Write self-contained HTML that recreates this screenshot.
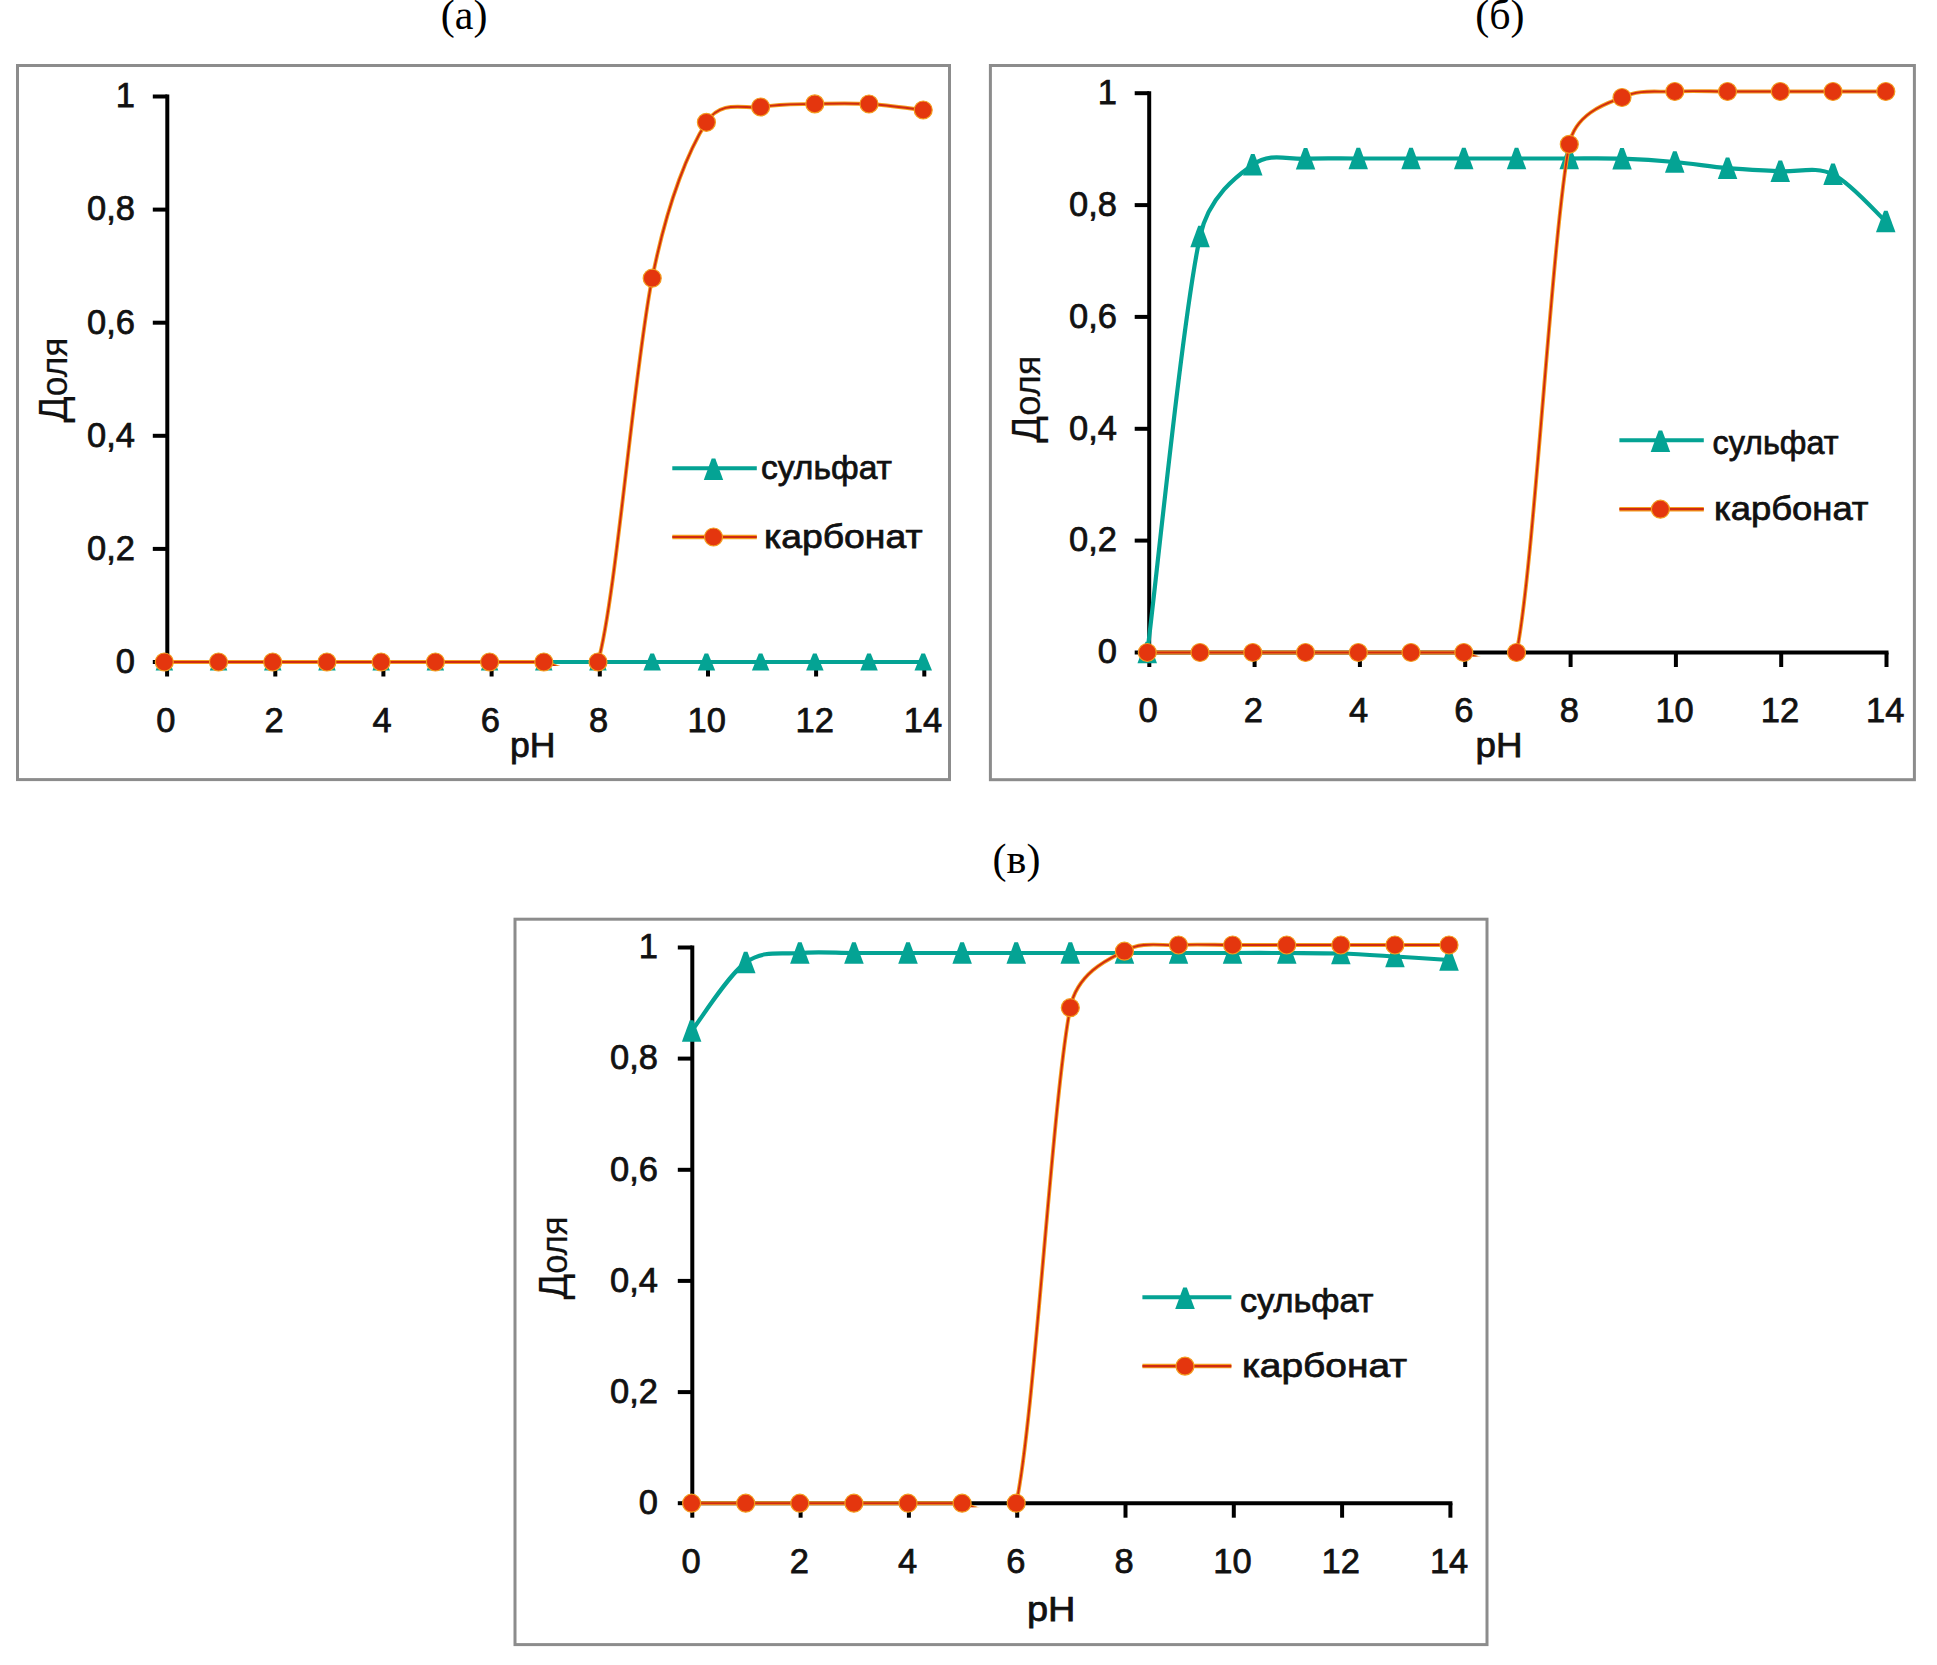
<!DOCTYPE html>
<html><head><meta charset="utf-8"><style>
html,body{margin:0;padding:0;background:#fff;}
svg{display:block;}
</style></head><body>
<svg width="1937" height="1665" viewBox="0 0 1937 1665">
<rect width="1937" height="1665" fill="#fff"/>
<g font-family="Liberation Serif, serif" font-size="42" fill="#000">
<text x="440.8" y="29.1">(а)</text>
<text x="1475.2" y="28.6">(б)</text>
<text x="992.6" y="872.8">(в)</text>
</g>
<rect x="17.5" y="65.5" width="932.0" height="714.1" fill="#fff" stroke="#8c8c8c" stroke-width="3"/>
<clipPath id="clipa"><rect x="163.3" y="67.5" width="782.2" height="598.5"/></clipPath>
<g stroke="#000" stroke-width="4" fill="none">
<line x1="167.3" y1="94.5" x2="167.3" y2="664"/>
<line x1="165.3" y1="662" x2="926.3" y2="662"/>
<line x1="152.8" y1="662.0" x2="167.3" y2="662.0"/>
<line x1="152.8" y1="548.9" x2="167.3" y2="548.9"/>
<line x1="152.8" y1="435.8" x2="167.3" y2="435.8"/>
<line x1="152.8" y1="322.7" x2="167.3" y2="322.7"/>
<line x1="152.8" y1="209.6" x2="167.3" y2="209.6"/>
<line x1="152.8" y1="96.5" x2="167.3" y2="96.5"/>
<line x1="167.1" y1="662" x2="167.1" y2="676.5"/>
<line x1="275.3" y1="662" x2="275.3" y2="676.5"/>
<line x1="383.4" y1="662" x2="383.4" y2="676.5"/>
<line x1="491.6" y1="662" x2="491.6" y2="676.5"/>
<line x1="599.8" y1="662" x2="599.8" y2="676.5"/>
<line x1="708.0" y1="662" x2="708.0" y2="676.5"/>
<line x1="816.1" y1="662" x2="816.1" y2="676.5"/>
<line x1="924.3" y1="662" x2="924.3" y2="676.5"/>
</g>
<g font-family="Liberation Sans, sans-serif" font-size="34.5" fill="#111" stroke="#111" stroke-width="0.75">
<text x="135" y="672.8" text-anchor="end">0</text>
<text x="135" y="559.7" text-anchor="end">0,2</text>
<text x="135" y="446.6" text-anchor="end">0,4</text>
<text x="135" y="333.5" text-anchor="end">0,6</text>
<text x="135" y="220.4" text-anchor="end">0,8</text>
<text x="135" y="107.3" text-anchor="end">1</text>
<text x="165.8" y="731.5" text-anchor="middle">0</text>
<text x="274.0" y="731.5" text-anchor="middle">2</text>
<text x="382.1" y="731.5" text-anchor="middle">4</text>
<text x="490.3" y="731.5" text-anchor="middle">6</text>
<text x="598.5" y="731.5" text-anchor="middle">8</text>
<text x="706.7" y="731.5" text-anchor="middle">10</text>
<text x="814.8" y="731.5" text-anchor="middle">12</text>
<text x="923.0" y="731.5" text-anchor="middle">14</text>
<text x="510" y="756.5" textLength="45.5" lengthAdjust="spacingAndGlyphs">pH</text>
<text transform="translate(66.5,380) rotate(-90)" x="-42.5" textLength="85" lengthAdjust="spacingAndGlyphs" stroke-width="0.2"><tspan font-size="40.5">Д</tspan><tspan font-size="37">оля</tspan></text>
</g>
<path clip-path="url(#clipa)" d="M164.3,662.0 C173.3,662.0 200.4,662.0 218.5,662.0 C236.6,662.0 254.7,662.0 272.7,662.0 C290.8,662.0 308.9,662.0 326.9,662.0 C345.0,662.0 363.1,662.0 381.1,662.0 C399.2,662.0 417.3,662.0 435.4,662.0 C453.4,662.0 471.5,662.0 489.6,662.0 C507.6,662.0 525.7,662.0 543.8,662.0 C561.8,662.0 579.9,662.0 598.0,662.0 C616.1,662.0 634.1,662.0 652.2,662.0 C670.3,662.0 688.3,662.0 706.4,662.0 C724.5,662.0 742.5,662.0 760.6,662.0 C778.7,662.0 796.8,662.0 814.8,662.0 C832.9,662.0 851.0,662.0 869.0,662.0 C887.1,662.0 914.2,662.0 923.2,662.0" fill="none" stroke="#04a394" stroke-width="4.2"/>
<polygon points="162.5,653.5 166.1,653.5 173.1,670.5 155.6,670.5" fill="#04a394"/>
<polygon points="216.7,653.5 220.3,653.5 227.3,670.5 209.8,670.5" fill="#04a394"/>
<polygon points="270.9,653.5 274.5,653.5 281.5,670.5 264.0,670.5" fill="#04a394"/>
<polygon points="325.1,653.5 328.7,653.5 335.7,670.5 318.2,670.5" fill="#04a394"/>
<polygon points="379.3,653.5 382.9,653.5 389.9,670.5 372.4,670.5" fill="#04a394"/>
<polygon points="433.6,653.5 437.2,653.5 444.1,670.5 426.6,670.5" fill="#04a394"/>
<polygon points="487.8,653.5 491.4,653.5 498.3,670.5 480.8,670.5" fill="#04a394"/>
<polygon points="542.0,653.5 545.6,653.5 552.5,670.5 535.0,670.5" fill="#04a394"/>
<polygon points="596.2,653.5 599.8,653.5 606.7,670.5 589.2,670.5" fill="#04a394"/>
<polygon points="650.4,653.5 654.0,653.5 660.9,670.5 643.4,670.5" fill="#04a394"/>
<polygon points="704.6,653.5 708.2,653.5 715.2,670.5 697.7,670.5" fill="#04a394"/>
<polygon points="758.8,653.5 762.4,653.5 769.4,670.5 751.9,670.5" fill="#04a394"/>
<polygon points="813.0,653.5 816.6,653.5 823.6,670.5 806.1,670.5" fill="#04a394"/>
<polygon points="867.2,653.5 870.8,653.5 877.8,670.5 860.3,670.5" fill="#04a394"/>
<polygon points="921.4,653.5 925.0,653.5 932.0,670.5 914.5,670.5" fill="#04a394"/>
<g clip-path="url(#clipa)">
<path d="M164.3,662.0 C173.3,662.0 200.4,662.0 218.5,662.0 C236.6,662.0 254.7,662.0 272.7,662.0 C290.8,662.0 308.9,662.0 326.9,662.0 C345.0,662.0 363.1,662.0 381.1,662.0 C399.2,662.0 417.3,662.0 435.4,662.0 C453.4,662.0 471.5,662.0 489.6,662.0 C507.6,662.0 525.7,662.0 543.8,662.0 C551.1,662.0 590.6,688.1 598.0,662.0 C616.1,598.0 634.1,368.1 652.2,278.2 C668.4,197.3 690.1,148.0 706.4,122.3 C721.5,98.5 745.5,109.6 760.6,107.0 C778.7,103.9 796.8,104.4 814.8,103.9 C832.9,103.4 851.0,103.0 869.0,104.0 C887.1,105.0 914.2,109.0 923.2,110.0" fill="none" stroke="#f39c1f" stroke-width="3.9"/>
<path d="M164.3,662.0 C173.3,662.0 200.4,662.0 218.5,662.0 C236.6,662.0 254.7,662.0 272.7,662.0 C290.8,662.0 308.9,662.0 326.9,662.0 C345.0,662.0 363.1,662.0 381.1,662.0 C399.2,662.0 417.3,662.0 435.4,662.0 C453.4,662.0 471.5,662.0 489.6,662.0 C507.6,662.0 525.7,662.0 543.8,662.0 C551.1,662.0 590.6,688.1 598.0,662.0 C616.1,598.0 634.1,368.1 652.2,278.2 C668.4,197.3 690.1,148.0 706.4,122.3 C721.5,98.5 745.5,109.6 760.6,107.0 C778.7,103.9 796.8,104.4 814.8,103.9 C832.9,103.4 851.0,103.0 869.0,104.0 C887.1,105.0 914.2,109.0 923.2,110.0" fill="none" stroke="#d02a10" stroke-width="1.9"/>
</g>
<circle cx="164.3" cy="662.0" r="9" fill="#e4360e" stroke="#f39c1f" stroke-width="1.2"/>
<circle cx="218.5" cy="662.0" r="9" fill="#e4360e" stroke="#f39c1f" stroke-width="1.2"/>
<circle cx="272.7" cy="662.0" r="9" fill="#e4360e" stroke="#f39c1f" stroke-width="1.2"/>
<circle cx="326.9" cy="662.0" r="9" fill="#e4360e" stroke="#f39c1f" stroke-width="1.2"/>
<circle cx="381.1" cy="662.0" r="9" fill="#e4360e" stroke="#f39c1f" stroke-width="1.2"/>
<circle cx="435.4" cy="662.0" r="9" fill="#e4360e" stroke="#f39c1f" stroke-width="1.2"/>
<circle cx="489.6" cy="662.0" r="9" fill="#e4360e" stroke="#f39c1f" stroke-width="1.2"/>
<circle cx="543.8" cy="662.0" r="9" fill="#e4360e" stroke="#f39c1f" stroke-width="1.2"/>
<circle cx="598.0" cy="662.0" r="9" fill="#e4360e" stroke="#f39c1f" stroke-width="1.2"/>
<circle cx="652.2" cy="278.2" r="9" fill="#e4360e" stroke="#f39c1f" stroke-width="1.2"/>
<circle cx="706.4" cy="122.3" r="9" fill="#e4360e" stroke="#f39c1f" stroke-width="1.2"/>
<circle cx="760.6" cy="107.0" r="9" fill="#e4360e" stroke="#f39c1f" stroke-width="1.2"/>
<circle cx="814.8" cy="103.9" r="9" fill="#e4360e" stroke="#f39c1f" stroke-width="1.2"/>
<circle cx="869.0" cy="104.0" r="9" fill="#e4360e" stroke="#f39c1f" stroke-width="1.2"/>
<circle cx="923.2" cy="110.0" r="9" fill="#e4360e" stroke="#f39c1f" stroke-width="1.2"/>
<line x1="672.3" y1="468.3" x2="756.8" y2="468.3" stroke="#04a394" stroke-width="4" stroke-linecap="butt"/>
<polygon points="711.7,458.6 715.3,458.6 723.2,480.1 703.8,480.1" fill="#04a394"/>
<line x1="672.3" y1="537" x2="756.8" y2="537" stroke="#f39c1f" stroke-width="4.5" stroke-linecap="butt"/>
<line x1="672.3" y1="537" x2="756.8" y2="537" stroke="#d02a10" stroke-width="2.2" stroke-linecap="butt"/>
<circle cx="713.5" cy="537.0" r="9" fill="#e4360e" stroke="#f39c1f" stroke-width="1.2"/>
<g font-family="Liberation Sans, sans-serif" font-size="34" fill="#111" stroke="#111" stroke-width="0.75">
<text x="761" y="479.3" textLength="131" lengthAdjust="spacingAndGlyphs">сульфат</text>
<text x="764" y="548" textLength="158.5" lengthAdjust="spacingAndGlyphs">карбонат</text>
</g>
<rect x="990.4" y="65.5" width="924.0000000000001" height="714.2" fill="#fff" stroke="#8c8c8c" stroke-width="3"/>
<clipPath id="clipb"><rect x="1145.2" y="67.5" width="765.2" height="589.0"/></clipPath>
<g stroke="#000" stroke-width="4" fill="none">
<line x1="1149.2" y1="91.2" x2="1149.2" y2="654.5"/>
<line x1="1147.2" y1="652.5" x2="1888.5" y2="652.5"/>
<line x1="1134.7" y1="652.5" x2="1149.2" y2="652.5"/>
<line x1="1134.7" y1="540.6" x2="1149.2" y2="540.6"/>
<line x1="1134.7" y1="428.8" x2="1149.2" y2="428.8"/>
<line x1="1134.7" y1="316.9" x2="1149.2" y2="316.9"/>
<line x1="1134.7" y1="205.1" x2="1149.2" y2="205.1"/>
<line x1="1134.7" y1="93.2" x2="1149.2" y2="93.2"/>
<line x1="1149.3" y1="652.5" x2="1149.3" y2="667.0"/>
<line x1="1254.6" y1="652.5" x2="1254.6" y2="667.0"/>
<line x1="1359.9" y1="652.5" x2="1359.9" y2="667.0"/>
<line x1="1465.2" y1="652.5" x2="1465.2" y2="667.0"/>
<line x1="1570.6" y1="652.5" x2="1570.6" y2="667.0"/>
<line x1="1675.9" y1="652.5" x2="1675.9" y2="667.0"/>
<line x1="1781.2" y1="652.5" x2="1781.2" y2="667.0"/>
<line x1="1886.5" y1="652.5" x2="1886.5" y2="667.0"/>
</g>
<g font-family="Liberation Sans, sans-serif" font-size="34.5" fill="#111" stroke="#111" stroke-width="0.75">
<text x="1117" y="663.3" text-anchor="end">0</text>
<text x="1117" y="551.4" text-anchor="end">0,2</text>
<text x="1117" y="439.6" text-anchor="end">0,4</text>
<text x="1117" y="327.7" text-anchor="end">0,6</text>
<text x="1117" y="215.9" text-anchor="end">0,8</text>
<text x="1117" y="104.0" text-anchor="end">1</text>
<text x="1148.0" y="722" text-anchor="middle">0</text>
<text x="1253.3" y="722" text-anchor="middle">2</text>
<text x="1358.6" y="722" text-anchor="middle">4</text>
<text x="1463.9" y="722" text-anchor="middle">6</text>
<text x="1569.3" y="722" text-anchor="middle">8</text>
<text x="1674.6" y="722" text-anchor="middle">10</text>
<text x="1779.9" y="722" text-anchor="middle">12</text>
<text x="1885.2" y="722" text-anchor="middle">14</text>
<text x="1475.5" y="756.7" textLength="47" lengthAdjust="spacingAndGlyphs">pH</text>
<text transform="translate(1040,399.2) rotate(-90)" x="-43.5" textLength="87" lengthAdjust="spacingAndGlyphs" stroke-width="0.2"><tspan font-size="40.5">Д</tspan><tspan font-size="37">оля</tspan></text>
</g>
<path clip-path="url(#clipb)" d="M1147.3,652.5 C1156.1,583.2 1182.5,317.8 1200.0,236.5 C1209.5,193.0 1243.4,171.7 1252.8,164.8 C1270.4,151.9 1288.0,159.9 1305.5,158.8 C1323.1,157.8 1340.7,158.6 1358.3,158.5 C1375.9,158.4 1393.5,158.5 1411.0,158.5 C1428.6,158.5 1446.2,158.5 1463.8,158.5 C1481.4,158.5 1499.0,158.5 1516.5,158.5 C1534.1,158.5 1551.7,158.5 1569.3,158.5 C1586.9,158.5 1604.5,158.1 1622.0,158.7 C1639.6,159.3 1657.2,160.4 1674.8,162.0 C1692.4,163.6 1710.0,166.6 1727.5,168.2 C1745.1,169.8 1762.7,170.3 1780.3,171.3 C1797.9,172.3 1815.5,165.9 1833.0,174.3 C1850.6,182.7 1877.0,213.6 1885.8,221.5" fill="none" stroke="#04a394" stroke-width="4.2"/>
<polygon points="1145.5,641.8 1149.1,641.8 1157.0,663.2 1137.5,663.2" fill="#04a394"/>
<polygon points="1198.2,225.8 1201.8,225.8 1209.8,247.2 1190.3,247.2" fill="#04a394"/>
<polygon points="1251.0,154.1 1254.6,154.1 1262.5,175.6 1243.0,175.6" fill="#04a394"/>
<polygon points="1303.8,148.1 1307.3,148.1 1315.3,169.6 1295.8,169.6" fill="#04a394"/>
<polygon points="1356.5,147.8 1360.1,147.8 1368.0,169.2 1348.5,169.2" fill="#04a394"/>
<polygon points="1409.2,147.8 1412.8,147.8 1420.8,169.2 1401.3,169.2" fill="#04a394"/>
<polygon points="1462.0,147.8 1465.6,147.8 1473.5,169.2 1454.0,169.2" fill="#04a394"/>
<polygon points="1514.8,147.8 1518.3,147.8 1526.3,169.2 1506.8,169.2" fill="#04a394"/>
<polygon points="1567.5,147.8 1571.1,147.8 1579.0,169.2 1559.5,169.2" fill="#04a394"/>
<polygon points="1620.2,147.9 1623.8,147.9 1631.8,169.4 1612.3,169.4" fill="#04a394"/>
<polygon points="1673.0,151.2 1676.6,151.2 1684.5,172.8 1665.0,172.8" fill="#04a394"/>
<polygon points="1725.8,157.4 1729.3,157.4 1737.3,178.9 1717.8,178.9" fill="#04a394"/>
<polygon points="1778.5,160.6 1782.1,160.6 1790.0,182.1 1770.5,182.1" fill="#04a394"/>
<polygon points="1831.2,163.6 1834.8,163.6 1842.8,185.1 1823.3,185.1" fill="#04a394"/>
<polygon points="1884.0,210.8 1887.6,210.8 1895.5,232.2 1876.0,232.2" fill="#04a394"/>
<g clip-path="url(#clipb)">
<path d="M1147.3,652.5 C1156.1,652.5 1182.5,652.5 1200.0,652.5 C1217.6,652.5 1235.2,652.5 1252.8,652.5 C1270.4,652.5 1288.0,652.5 1305.5,652.5 C1323.1,652.5 1340.7,652.5 1358.3,652.5 C1375.9,652.5 1393.5,652.5 1411.0,652.5 C1428.6,652.5 1446.2,652.5 1463.8,652.5 C1469.2,652.5 1511.2,678.3 1516.5,652.5 C1534.1,567.8 1551.7,236.8 1569.3,144.3 C1575.9,109.7 1615.5,100.8 1622.0,97.5 C1639.6,88.7 1657.2,92.5 1674.8,91.5 C1692.4,90.5 1710.0,91.5 1727.5,91.5 C1745.1,91.5 1762.7,91.5 1780.3,91.5 C1797.9,91.5 1815.5,91.5 1833.0,91.5 C1850.6,91.5 1877.0,91.5 1885.8,91.5" fill="none" stroke="#f39c1f" stroke-width="3.9"/>
<path d="M1147.3,652.5 C1156.1,652.5 1182.5,652.5 1200.0,652.5 C1217.6,652.5 1235.2,652.5 1252.8,652.5 C1270.4,652.5 1288.0,652.5 1305.5,652.5 C1323.1,652.5 1340.7,652.5 1358.3,652.5 C1375.9,652.5 1393.5,652.5 1411.0,652.5 C1428.6,652.5 1446.2,652.5 1463.8,652.5 C1469.2,652.5 1511.2,678.3 1516.5,652.5 C1534.1,567.8 1551.7,236.8 1569.3,144.3 C1575.9,109.7 1615.5,100.8 1622.0,97.5 C1639.6,88.7 1657.2,92.5 1674.8,91.5 C1692.4,90.5 1710.0,91.5 1727.5,91.5 C1745.1,91.5 1762.7,91.5 1780.3,91.5 C1797.9,91.5 1815.5,91.5 1833.0,91.5 C1850.6,91.5 1877.0,91.5 1885.8,91.5" fill="none" stroke="#d02a10" stroke-width="1.9"/>
</g>
<circle cx="1147.3" cy="652.5" r="9" fill="#e4360e" stroke="#f39c1f" stroke-width="1.2"/>
<circle cx="1200.0" cy="652.5" r="9" fill="#e4360e" stroke="#f39c1f" stroke-width="1.2"/>
<circle cx="1252.8" cy="652.5" r="9" fill="#e4360e" stroke="#f39c1f" stroke-width="1.2"/>
<circle cx="1305.5" cy="652.5" r="9" fill="#e4360e" stroke="#f39c1f" stroke-width="1.2"/>
<circle cx="1358.3" cy="652.5" r="9" fill="#e4360e" stroke="#f39c1f" stroke-width="1.2"/>
<circle cx="1411.0" cy="652.5" r="9" fill="#e4360e" stroke="#f39c1f" stroke-width="1.2"/>
<circle cx="1463.8" cy="652.5" r="9" fill="#e4360e" stroke="#f39c1f" stroke-width="1.2"/>
<circle cx="1516.5" cy="652.5" r="9" fill="#e4360e" stroke="#f39c1f" stroke-width="1.2"/>
<circle cx="1569.3" cy="144.3" r="9" fill="#e4360e" stroke="#f39c1f" stroke-width="1.2"/>
<circle cx="1622.0" cy="97.5" r="9" fill="#e4360e" stroke="#f39c1f" stroke-width="1.2"/>
<circle cx="1674.8" cy="91.5" r="9" fill="#e4360e" stroke="#f39c1f" stroke-width="1.2"/>
<circle cx="1727.5" cy="91.5" r="9" fill="#e4360e" stroke="#f39c1f" stroke-width="1.2"/>
<circle cx="1780.3" cy="91.5" r="9" fill="#e4360e" stroke="#f39c1f" stroke-width="1.2"/>
<circle cx="1833.0" cy="91.5" r="9" fill="#e4360e" stroke="#f39c1f" stroke-width="1.2"/>
<circle cx="1885.8" cy="91.5" r="9" fill="#e4360e" stroke="#f39c1f" stroke-width="1.2"/>
<line x1="1619.4" y1="440.3" x2="1703.8" y2="440.3" stroke="#04a394" stroke-width="4" stroke-linecap="butt"/>
<polygon points="1658.6,430.6 1662.2,430.6 1670.2,452.1 1650.7,452.1" fill="#04a394"/>
<line x1="1619.4" y1="509.2" x2="1703.8" y2="509.2" stroke="#f39c1f" stroke-width="4.5" stroke-linecap="butt"/>
<line x1="1619.4" y1="509.2" x2="1703.8" y2="509.2" stroke="#d02a10" stroke-width="2.2" stroke-linecap="butt"/>
<circle cx="1660.4" cy="509.2" r="9" fill="#e4360e" stroke="#f39c1f" stroke-width="1.2"/>
<g font-family="Liberation Sans, sans-serif" font-size="34" fill="#111" stroke="#111" stroke-width="0.75">
<text x="1712.5" y="454" textLength="126" lengthAdjust="spacingAndGlyphs">сульфат</text>
<text x="1714" y="520" textLength="154.5" lengthAdjust="spacingAndGlyphs">карбонат</text>
</g>
<rect x="515" y="919.2" width="972" height="725.3999999999999" fill="#fff" stroke="#8c8c8c" stroke-width="3"/>
<clipPath id="clipc"><rect x="688.3" y="921.2" width="794.7" height="586.0"/></clipPath>
<g stroke="#000" stroke-width="4" fill="none">
<line x1="692.3" y1="945.5" x2="692.3" y2="1505.2"/>
<line x1="690.3" y1="1503.2" x2="1452.4" y2="1503.2"/>
<line x1="677.8" y1="1503.2" x2="692.3" y2="1503.2"/>
<line x1="677.8" y1="1392.1" x2="692.3" y2="1392.1"/>
<line x1="677.8" y1="1280.9" x2="692.3" y2="1280.9"/>
<line x1="677.8" y1="1169.8" x2="692.3" y2="1169.8"/>
<line x1="677.8" y1="1058.6" x2="692.3" y2="1058.6"/>
<line x1="677.8" y1="947.5" x2="692.3" y2="947.5"/>
<line x1="692.3" y1="1503.2" x2="692.3" y2="1517.7"/>
<line x1="800.6" y1="1503.2" x2="800.6" y2="1517.7"/>
<line x1="908.9" y1="1503.2" x2="908.9" y2="1517.7"/>
<line x1="1017.2" y1="1503.2" x2="1017.2" y2="1517.7"/>
<line x1="1125.5" y1="1503.2" x2="1125.5" y2="1517.7"/>
<line x1="1233.8" y1="1503.2" x2="1233.8" y2="1517.7"/>
<line x1="1342.1" y1="1503.2" x2="1342.1" y2="1517.7"/>
<line x1="1450.4" y1="1503.2" x2="1450.4" y2="1517.7"/>
</g>
<g font-family="Liberation Sans, sans-serif" font-size="34.5" fill="#111" stroke="#111" stroke-width="0.75">
<text x="658" y="1514.0" text-anchor="end">0</text>
<text x="658" y="1402.9" text-anchor="end">0,2</text>
<text x="658" y="1291.7" text-anchor="end">0,4</text>
<text x="658" y="1180.6" text-anchor="end">0,6</text>
<text x="658" y="1069.4" text-anchor="end">0,8</text>
<text x="658" y="958.3" text-anchor="end">1</text>
<text x="691.0" y="1573.4" text-anchor="middle">0</text>
<text x="799.3" y="1573.4" text-anchor="middle">2</text>
<text x="907.6" y="1573.4" text-anchor="middle">4</text>
<text x="1015.9" y="1573.4" text-anchor="middle">6</text>
<text x="1124.2" y="1573.4" text-anchor="middle">8</text>
<text x="1232.5" y="1573.4" text-anchor="middle">10</text>
<text x="1340.8" y="1573.4" text-anchor="middle">12</text>
<text x="1449.1" y="1573.4" text-anchor="middle">14</text>
<text x="1027" y="1621" textLength="48.5" lengthAdjust="spacingAndGlyphs">pH</text>
<text transform="translate(567,1258) rotate(-90)" x="-41.5" textLength="83" lengthAdjust="spacingAndGlyphs" stroke-width="0.2"><tspan font-size="40.5">Д</tspan><tspan font-size="37">оля</tspan></text>
</g>
<path clip-path="url(#clipc)" d="M691.6,1031.0 C700.6,1019.6 727.7,975.5 745.7,962.5 C763.7,949.5 781.8,954.6 799.8,953.0 C817.8,951.4 835.9,953.0 853.9,953.0 C871.9,953.0 890.0,953.0 908.0,953.0 C926.0,953.0 944.1,953.0 962.1,953.0 C980.1,953.0 998.2,953.0 1016.2,953.0 C1034.2,953.0 1052.3,953.0 1070.3,953.0 C1088.3,953.0 1106.4,953.0 1124.4,953.0 C1142.4,953.0 1160.5,953.0 1178.5,953.0 C1196.5,953.0 1214.6,953.0 1232.6,953.0 C1250.6,953.0 1268.7,952.9 1286.7,953.0 C1304.7,953.1 1322.8,952.9 1340.8,953.5 C1358.8,954.1 1376.9,955.4 1394.9,956.5 C1412.9,957.6 1440.0,959.4 1449.0,960.0" fill="none" stroke="#04a394" stroke-width="4.2"/>
<polygon points="689.8,1020.2 693.4,1020.2 701.4,1041.8 681.9,1041.8" fill="#04a394"/>
<polygon points="743.9,951.8 747.5,951.8 755.5,973.2 736.0,973.2" fill="#04a394"/>
<polygon points="798.0,942.2 801.6,942.2 809.6,963.8 790.1,963.8" fill="#04a394"/>
<polygon points="852.1,942.2 855.7,942.2 863.7,963.8 844.2,963.8" fill="#04a394"/>
<polygon points="906.2,942.2 909.8,942.2 917.8,963.8 898.2,963.8" fill="#04a394"/>
<polygon points="960.3,942.2 963.9,942.2 971.9,963.8 952.4,963.8" fill="#04a394"/>
<polygon points="1014.4,942.2 1018.0,942.2 1026.0,963.8 1006.5,963.8" fill="#04a394"/>
<polygon points="1068.5,942.2 1072.1,942.2 1080.0,963.8 1060.5,963.8" fill="#04a394"/>
<polygon points="1122.6,942.2 1126.2,942.2 1134.2,963.8 1114.7,963.8" fill="#04a394"/>
<polygon points="1176.7,942.2 1180.3,942.2 1188.2,963.8 1168.8,963.8" fill="#04a394"/>
<polygon points="1230.8,942.2 1234.4,942.2 1242.3,963.8 1222.8,963.8" fill="#04a394"/>
<polygon points="1284.9,942.2 1288.5,942.2 1296.5,963.8 1277.0,963.8" fill="#04a394"/>
<polygon points="1339.0,942.8 1342.6,942.8 1350.6,964.2 1331.1,964.2" fill="#04a394"/>
<polygon points="1393.1,945.8 1396.7,945.8 1404.7,967.2 1385.2,967.2" fill="#04a394"/>
<polygon points="1447.2,949.2 1450.8,949.2 1458.8,970.8 1439.2,970.8" fill="#04a394"/>
<g clip-path="url(#clipc)">
<path d="M691.6,1503.2 C700.6,1503.2 727.7,1503.2 745.7,1503.2 C763.7,1503.2 781.8,1503.2 799.8,1503.2 C817.8,1503.2 835.9,1503.2 853.9,1503.2 C871.9,1503.2 890.0,1503.2 908.0,1503.2 C926.0,1503.2 944.1,1503.2 962.1,1503.2 C967.9,1503.2 1010.4,1529.6 1016.2,1503.2 C1034.2,1420.6 1052.3,1099.7 1070.3,1007.7 C1077.8,969.3 1116.9,955.6 1124.4,951.2 C1142.4,940.8 1160.5,946.0 1178.5,945.0 C1196.5,944.0 1214.6,945.0 1232.6,945.0 C1250.6,945.0 1268.7,945.0 1286.7,945.0 C1304.7,945.0 1322.8,945.0 1340.8,945.0 C1358.8,945.0 1376.9,945.0 1394.9,945.0 C1412.9,945.0 1440.0,945.0 1449.0,945.0" fill="none" stroke="#f39c1f" stroke-width="3.9"/>
<path d="M691.6,1503.2 C700.6,1503.2 727.7,1503.2 745.7,1503.2 C763.7,1503.2 781.8,1503.2 799.8,1503.2 C817.8,1503.2 835.9,1503.2 853.9,1503.2 C871.9,1503.2 890.0,1503.2 908.0,1503.2 C926.0,1503.2 944.1,1503.2 962.1,1503.2 C967.9,1503.2 1010.4,1529.6 1016.2,1503.2 C1034.2,1420.6 1052.3,1099.7 1070.3,1007.7 C1077.8,969.3 1116.9,955.6 1124.4,951.2 C1142.4,940.8 1160.5,946.0 1178.5,945.0 C1196.5,944.0 1214.6,945.0 1232.6,945.0 C1250.6,945.0 1268.7,945.0 1286.7,945.0 C1304.7,945.0 1322.8,945.0 1340.8,945.0 C1358.8,945.0 1376.9,945.0 1394.9,945.0 C1412.9,945.0 1440.0,945.0 1449.0,945.0" fill="none" stroke="#d02a10" stroke-width="1.9"/>
</g>
<circle cx="691.6" cy="1503.2" r="9" fill="#e4360e" stroke="#f39c1f" stroke-width="1.2"/>
<circle cx="745.7" cy="1503.2" r="9" fill="#e4360e" stroke="#f39c1f" stroke-width="1.2"/>
<circle cx="799.8" cy="1503.2" r="9" fill="#e4360e" stroke="#f39c1f" stroke-width="1.2"/>
<circle cx="853.9" cy="1503.2" r="9" fill="#e4360e" stroke="#f39c1f" stroke-width="1.2"/>
<circle cx="908.0" cy="1503.2" r="9" fill="#e4360e" stroke="#f39c1f" stroke-width="1.2"/>
<circle cx="962.1" cy="1503.2" r="9" fill="#e4360e" stroke="#f39c1f" stroke-width="1.2"/>
<circle cx="1016.2" cy="1503.2" r="9" fill="#e4360e" stroke="#f39c1f" stroke-width="1.2"/>
<circle cx="1070.3" cy="1007.7" r="9" fill="#e4360e" stroke="#f39c1f" stroke-width="1.2"/>
<circle cx="1124.4" cy="951.2" r="9" fill="#e4360e" stroke="#f39c1f" stroke-width="1.2"/>
<circle cx="1178.5" cy="945.0" r="9" fill="#e4360e" stroke="#f39c1f" stroke-width="1.2"/>
<circle cx="1232.6" cy="945.0" r="9" fill="#e4360e" stroke="#f39c1f" stroke-width="1.2"/>
<circle cx="1286.7" cy="945.0" r="9" fill="#e4360e" stroke="#f39c1f" stroke-width="1.2"/>
<circle cx="1340.8" cy="945.0" r="9" fill="#e4360e" stroke="#f39c1f" stroke-width="1.2"/>
<circle cx="1394.9" cy="945.0" r="9" fill="#e4360e" stroke="#f39c1f" stroke-width="1.2"/>
<circle cx="1449.0" cy="945.0" r="9" fill="#e4360e" stroke="#f39c1f" stroke-width="1.2"/>
<line x1="1142.4" y1="1297.2" x2="1231.4" y2="1297.2" stroke="#04a394" stroke-width="4" stroke-linecap="butt"/>
<polygon points="1183.2,1287.5 1186.8,1287.5 1194.8,1309.0 1175.2,1309.0" fill="#04a394"/>
<line x1="1142.4" y1="1366.1" x2="1231.4" y2="1366.1" stroke="#f39c1f" stroke-width="4.5" stroke-linecap="butt"/>
<line x1="1142.4" y1="1366.1" x2="1231.4" y2="1366.1" stroke="#d02a10" stroke-width="2.2" stroke-linecap="butt"/>
<circle cx="1185.0" cy="1366.1" r="9" fill="#e4360e" stroke="#f39c1f" stroke-width="1.2"/>
<g font-family="Liberation Sans, sans-serif" font-size="34" fill="#111" stroke="#111" stroke-width="0.75">
<text x="1240" y="1311.5" textLength="133.5" lengthAdjust="spacingAndGlyphs">сульфат</text>
<text x="1242" y="1377" textLength="165" lengthAdjust="spacingAndGlyphs">карбонат</text>
</g>
</svg>
</body></html>
